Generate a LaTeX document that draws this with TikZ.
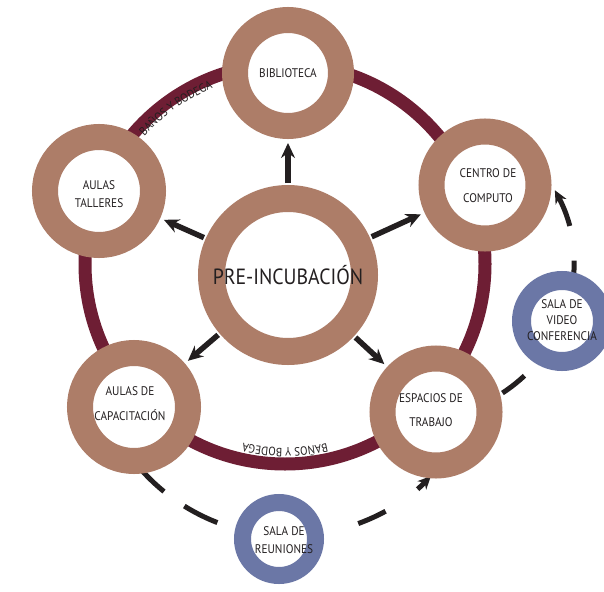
\documentclass[tikz,border=0pt]{standalone}
\usepackage{fontspec}
\usetikzlibrary{arrows.meta,calc,decorations.text}
\newfontfamily\lbl[FakeStretch=0.9]{PT Sans}
\definecolor{ringbrown}{RGB}{173,125,104}
\definecolor{maroon}{RGB}{110,30,52}
\definecolor{roomblue}{RGB}{107,119,166}
\definecolor{ink}{RGB}{35,31,32}
\begin{document}
\begin{tikzpicture}[x=1pt,y=-1pt,
  hub/.style n args={3}{circle, inner sep=0pt, fill=white, draw=#1, line width=#2, minimum size=#3},
  lbl/.style={font=\lbl\fontsize{12.5}{#1}\selectfont, text=ink, align=center, inner sep=0pt},
  arr/.style={draw=ink, line width=5.5pt, -{Stealth[length=15pt,width=14pt,inset=5pt]}, shorten >=4pt, shorten <=2pt},
  dashline/.style={draw=ink, line width=5pt, -{Stealth[length=13pt,width=12pt,inset=4pt]}},
  ringtext/.style={decorate, decoration={text along path, text align=center, text color=ink,
      text={|\lbl\fontsize{12}{12}\selectfont|BAÑOS Y BODEGA}}}
]
\useasboundingbox (0,0) rectangle (604,591);
\fill[white] (0,0) rectangle (604,591);

% outer service ring
\coordinate (ringc) at (285,264);
\draw[maroon, line width=13pt] (ringc) circle (200);
\path[ringtext] ($(ringc)+(213:190)$) arc[start angle=213, end angle=257, radius=190];
\path[ringtext] ($(ringc)+(70:184)$) arc[start angle=70, end angle=110, radius=184];

% dashed links through the meeting rooms
\coordinate (arcA) at (418,263);
\coordinate (arcB) at (289,338);
\draw[dashline, dash pattern=on 28pt off 99pt on 30pt off 35pt on 60pt]
  ($(arcA)+(57:155)$) arc[start angle=57, end angle=-28, radius=155];
\draw[dashline, dash pattern=on 33pt off 25pt on 37pt off 144pt on 30pt off 39pt on 60pt]
  ($(arcB)+(138.7:198)$) arc[start angle=138.7, end angle=44.2, radius=198];

% stations
\node[hub={ringbrown}{27pt}{153pt}] (pre) at (288,275) {};
\node[hub={ringbrown}{26pt}{106pt}] (bib) at (288,73) {};
\node[hub={ringbrown}{26pt}{107pt}] (cen) at (485,185) {};
\node[hub={ringbrown}{26pt}{108pt}] (tal) at (99,191) {};
\node[hub={ringbrown}{26pt}{108pt}] (cap) at (134,407) {};
\node[hub={ringbrown}{26pt}{107pt}] (esp) at (436,412) {};
\node[hub={roomblue}{19pt}{81pt}] (vid) at (562,321) {};
\node[hub={roomblue}{17pt}{73pt}] (reu) at (279,539) {};

% labels
\node[font=\lbl\fontsize{22}{22}\selectfont, text=ink, inner sep=0pt, anchor=base] (pre-t) at (288,284) {PRE-INCUBACIÓN};
\node[lbl=12] (bib-t) at (288,73) {BIBLIOTECA};
\node[lbl=25] (cen-t) at (488,186) {CENTRO DE\\COMPUTO};
\node[lbl=18] (tal-t) at (99,194) {AULAS\\TALLERES};
\node[lbl=25] (cap-t) at (130,404) {AULAS DE\\CAPACITACIÓN};
\node[lbl=24] (esp-t) at (431,410) {ESPACIOS DE\\TRABAJO};
\node[lbl=16] (vid-t) at (562,320) {SALA DE\\VIDEO\\CONFERENCIA};
\node[lbl=18] (reu-t) at (284,540) {SALA DE\\REUNIONES};

% flows out of the pre-incubation hub
\draw[arr] (pre) -- (bib);
\draw[arr] (pre) -- (cen);
\draw[arr] (pre) -- (tal);
\draw[arr] (pre) -- (cap);
\draw[arr] (pre) -- (esp);
\end{tikzpicture}
\end{document}
